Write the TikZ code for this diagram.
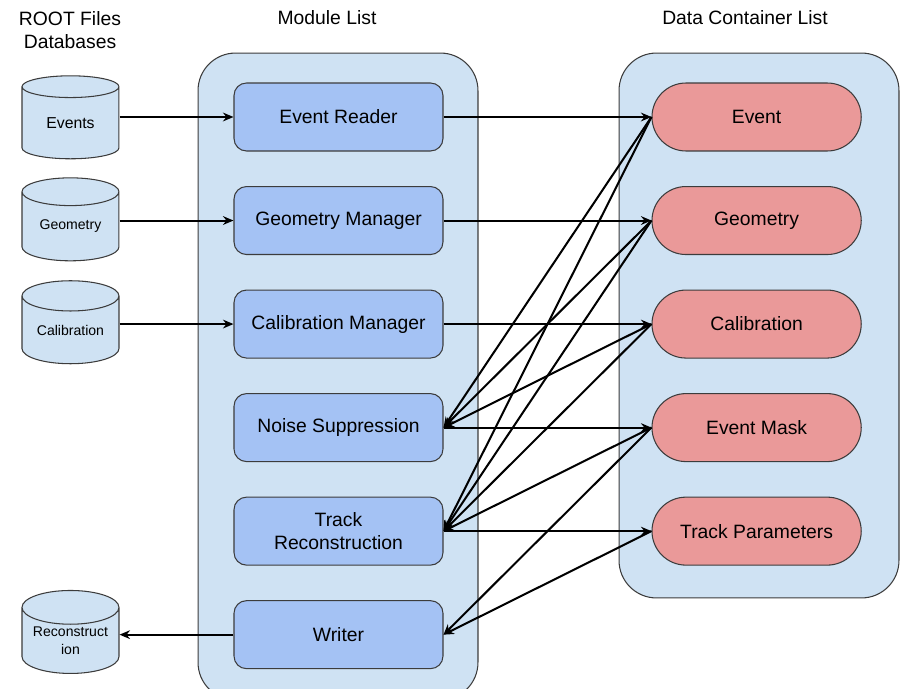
\documentclass[tikz,border=0pt]{standalone}
\usepackage{fontspec}
\setmainfont{Liberation Sans}
\usetikzlibrary{arrows, arrows.meta, positioning, shapes.geometric, shapes.misc}

\definecolor{listblue}{HTML}{CFE2F3}
\definecolor{moduleblue}{HTML}{A4C2F4}
\definecolor{datared}{HTML}{EA9999}
\definecolor{edgegray}{HTML}{3C3C3C}

\begin{document}
\begin{tikzpicture}[
        x=0.02cm, y=-0.02cm,
        every node/.style={font=\fontsize{11}{13}\selectfont},
        listbox/.style={draw=edgegray, fill=listblue, rounded corners=0.75cm, line width=0.6pt},
        module/.style={draw=edgegray, fill=moduleblue, rounded corners=0.25cm, minimum width=4.18cm, minimum height=1.36cm, align=center, line width=0.6pt},
        data/.style={draw=edgegray, fill=datared, rounded rectangle, minimum width=4.42cm, minimum height=1.36cm, line width=0.6pt},
        db/.style={draw=edgegray, fill=listblue, cylinder, shape border rotate=90, aspect=0.45, minimum width=1.94cm, minimum height=1.66cm, inner sep=0pt, align=center, font=\fontsize{8}{10}\selectfont, line width=0.6pt},
        link/.style={->, >={Stealth[length=6pt, width=5pt, inset=2pt]}, line width=1.15pt}
    ]
        \useasboundingbox (0,0) rectangle (904,689);

        % Titles
        \node[align=center] (roottitle) at (70,30) {ROOT Files\\Databases};
        \node (modtitle) at (327,18) {Module List};
        \node (datatitle) at (745,18) {Data Container List};

        % Lists
        \node[listbox, minimum width=5.6cm, minimum height=12.94cm] (modlist) at (338,376.5) {};
        \node[listbox, minimum width=5.6cm, minimum height=10.9cm] (datalist) at (759,325.5) {};

        % Modules
        \node[module] (reader) at (338.5,117) {Event Reader};
        \node[module, below=0.69cm of reader] (geomman) {Geometry Manager};
        \node[module, below=0.69cm of geomman] (calibman) {Calibration Manager};
        \node[module, below=0.69cm of calibman] (noise) {Noise Suppression};
        \node[module, below=0.69cm of noise] (track) {Track\\Reconstruction};
        \node[module, below=0.69cm of track] (writer) {Writer};

        % Data containers
        \node[data, right=4.16cm of reader] (event) {Event};
        \node[data, right=4.16cm of geomman] (geometry) {Geometry};
        \node[data, right=4.16cm of calibman] (calib) {Calibration};
        \node[data, right=4.16cm of noise] (mask) {Event Mask};
        \node[data, right=4.16cm of track] (params) {Track Parameters};

        % Files
        \node[db, font=\fontsize{9}{11}\selectfont, left=2.28cm of reader, yshift=-0.12cm] (evfiles) {Events};
        \node[db, left=2.28cm of geomman, yshift=-0.12cm] (geofiles) {Geometry};
        \node[db, left=2.28cm of calibman, yshift=-0.12cm] (calfiles) {Calibration};
        \node[db, left=2.28cm of writer, yshift=-0.12cm] (recofiles) {Reconstruct\\ion};

        % Input and output
        \draw[link] (reader.west -| evfiles.east) -- (reader.west);
        \draw[link] (geomman.west -| geofiles.east) -- (geomman.west);
        \draw[link] (calibman.west -| calfiles.east) -- (calibman.west);
        \draw[link] (writer.west) -- (writer.west -| recofiles.east);

        % Modules fill containers
        \draw[link] (reader.east) -- (event.west);
        \draw[link] (geomman.east) -- (geometry.west);
        \draw[link] (calibman.east) -- (calib.west);
        \draw[link] (noise.east) -- (mask.west);
        \draw[link] (track.east) -- (params.west);

        % Modules read containers
        \foreach \src/\dst in {event/noise, geometry/noise, calib/noise, event/track, geometry/track, calib/track, mask/track, mask/writer, params/writer}
            \draw[link] (\src.west) -- (\dst.east);
    \end{tikzpicture}
\end{document}
